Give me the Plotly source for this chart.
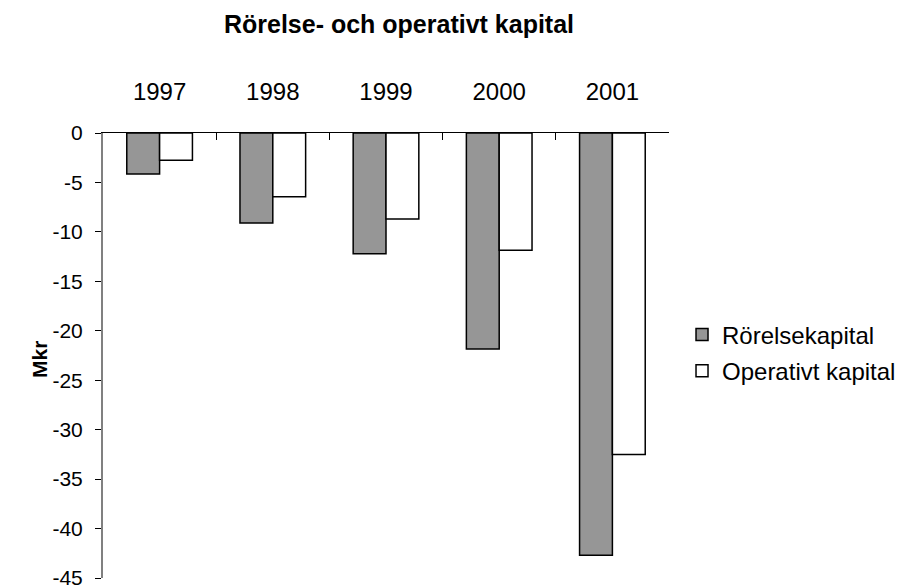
import plotly.graph_objects as go

years = ["1997", "1998", "1999", "2000", "2001"]
rorelsekapital = [-4.15, -9.1, -12.2, -21.85, -42.7]
operativt_kapital = [-2.75, -6.45, -8.7, -11.85, -32.5]
y_ticks = [0, -5, -10, -15, -20, -25, -30, -35, -40, -45]

FONT = "Liberation Sans, Arial, sans-serif"

# page body has an 8px margin, so figure coords = screen coords - 8
OFF = 8
PL, PR, PT, PB = 103 - OFF, 669 - OFF, 133 - OFF, 578 - OFF
W, H = 904, 585
PW, PH = PR - PL, PB - PT

fig = go.Figure()
fig.add_trace(go.Bar(
    x=years, y=rorelsekapital, name="Rörelsekapital",
    marker=dict(color="#969696", line=dict(color="black", width=1.5)),
    legendgroup="a",
))
fig.add_trace(go.Bar(
    x=years, y=operativt_kapital, name="Operativt kapital",
    marker=dict(color="white", line=dict(color="black", width=1.5)),
    legendgroup="b",
))

fig.update_layout(
    width=W, height=H,
    margin=dict(l=PL, r=W - PR, t=PT, b=H - PB, autoexpand=False),
    paper_bgcolor="white", plot_bgcolor="white",
    barmode="group", bargap=0.42, bargroupgap=0,
    font=dict(family=FONT, size=24, color="black"),
    title=dict(text="<b>Rörelse- och operativt kapital</b>", x=(399 - OFF) / W, xanchor="center",
               yref="container", y=1 - (24 - OFF) / H, yanchor="middle",
               font=dict(size=25, family=FONT)),
    legend=dict(x=1.023, xanchor="left", y=(PB - (353 - OFF)) / PH, yanchor="middle",
                font=dict(size=24, family=FONT), tracegroupgap=2,
                itemwidth=30, bgcolor="rgba(0,0,0,0)", traceorder="grouped"),
    showlegend=True,
    annotations=[dict(
        text="<b>Mkr</b>", textangle=-90, xref="paper", yref="paper",
        x=(40 - 103) / PW, y=0.49, xanchor="center", yanchor="middle",
        showarrow=False, font=dict(size=21, family=FONT, color="black"),
    )],
)
fig.update_xaxes(
    side="top", type="category", showline=True, linecolor="black", linewidth=1,
    ticks="inside", tickson="boundaries", ticklen=7, tickcolor="black",
    showgrid=False, zeroline=False, tickfont=dict(size=24),
    ticklabelstandoff=22, automargin=False,
)
fig.update_yaxes(
    range=[-45, 0], tickvals=y_ticks, ticktext=[str(v) for v in y_ticks],
    showline=True, linecolor="#808080", linewidth=2,
    ticks="outside", ticklen=6, tickcolor="black",
    showgrid=False, zeroline=False, tickfont=dict(size=21),
    ticklabelstandoff=8, automargin=False,
)

fig.write_html("out.html")
